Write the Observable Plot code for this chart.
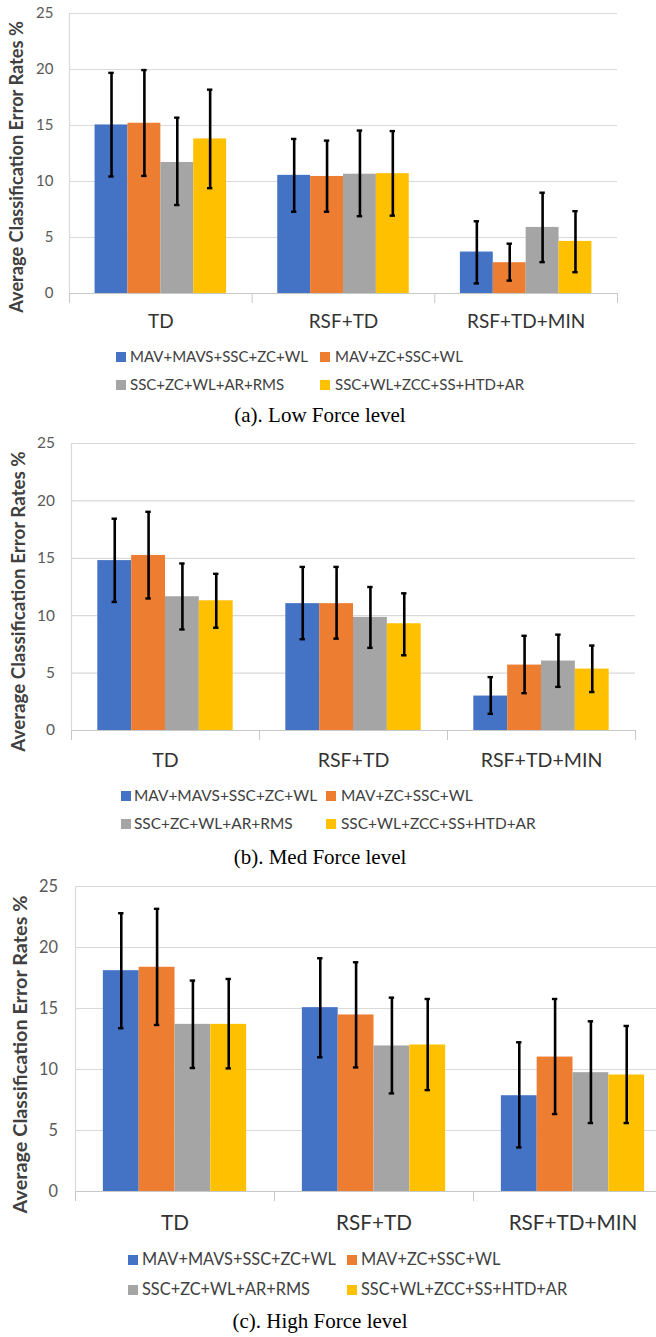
<!DOCTYPE html>
<html>
<head>
<meta charset="utf-8">
<script src="https://cdn.jsdelivr.net/npm/d3@7"></script>
<script src="https://cdn.jsdelivr.net/npm/@observablehq/plot@0.6"></script>
<style>
  html, body { margin: 0; padding: 0; background: #fff; }
  body { width: 656px; height: 1337px; overflow: hidden; position: relative; }
  .panel { position: absolute; left: 0; width: 656px; overflow: hidden; }
  .panel svg { display: block; max-width: none !important; }
  .sq { position: absolute; width: 10px; height: 10px; }
  .lg { position: absolute; font-family: Lato, sans-serif; color: #404040; line-height: 1; white-space: nowrap; }
  .cap { position: absolute; left: 0; width: 640px; text-align: center; font-family: "Liberation Serif", "Times New Roman", serif; font-size: 21px; line-height: 1; color: #000; }
</style>
</head>
<body>
<script>
// ---- data ----
const categories = ["TD", "RSF+TD", "RSF+TD+MIN"];
const series = ["MAV+MAVS+SSC+ZC+WL", "MAV+ZC+SSC+WL", "SSC+ZC+WL+AR+RMS", "SSC+WL+ZCC+SS+HTD+AR"];
const colors = ["#4472C4", "#ED7D31", "#A5A5A5", "#FFC000"];
const yTicks = [0, 5, 10, 15, 20, 25];
const yLabel = "Average Classification Error Rates %";
const captions = ["(a). Low Force level", "(b). Med Force level", "(c). High Force level"];

// values per series (rows) across categories (columns)
const lowMean = [[15.05, 10.55, 3.7], [15.2, 10.45, 2.75], [11.7, 10.65, 5.9], [13.8, 10.7, 4.65]];
const lowLo   = [[10.45, 7.3, 0.9], [10.5, 7.3, 1.15], [7.9, 6.9, 2.8], [9.4, 6.95, 1.9]];
const lowHi   = [[19.7, 13.8, 6.45], [19.95, 13.65, 4.45], [15.7, 14.55, 9.0], [18.2, 14.5, 7.35]];

const medMean = [[14.8, 11.05, 3.0], [15.25, 11.05, 5.7], [11.65, 9.85, 6.05], [11.3, 9.3, 5.35]];
const medLo   = [[11.2, 7.95, 1.45], [11.5, 8.0, 3.25], [8.8, 7.2, 3.8], [8.95, 6.55, 3.35]];
const medHi   = [[18.45, 14.25, 4.65], [19.05, 14.25, 8.25], [14.55, 12.5, 8.35], [13.65, 11.95, 7.4]];

const highMean = [[18.1, 15.07, 7.85], [18.38, 14.47, 11.02], [13.7, 11.93, 9.74], [13.7, 12.01, 9.55]];
const highLo   = [[13.38, 11.0, 3.61], [13.65, 10.17, 6.35], [10.12, 8.04, 5.61], [10.09, 8.31, 5.61]];
const highHi   = [[22.81, 19.12, 12.23], [23.17, 18.79, 15.78], [17.29, 15.89, 13.95], [17.42, 15.78, 13.57]];

// ---- layout ----
const PAD = 0.14;
const BW = (1 - 2 * PAD) / series.length;

const layouts = [
  {top: 0,   W: 656, ml: 69, mr: 39, mt: 13, y0: 293, H: 340, s: 1.00, catPad: 20.5, ylx: 17, yly: 166.5,
   rows: [357, 385], sqX: [116, 320], txX: [130, 335], capBase: 423, mean: lowMean, lo: lowLo, hi: lowHi},
  {top: 430, W: 656, ml: 71, mr: 21, mt: 13, y0: 300, H: 350, s: 1.03, catPad: 23, ylx: 18.5, yly: 171,
   rows: [366, 394], sqX: [121, 326], txX: [134, 341], capBase: 435, mean: medMean, lo: medLo, hi: medHi},
  {top: 873, W: 700, ml: 75, mr: 28, mt: 13, y0: 318, H: 370, s: 1.09, catPad: 23.5, ylx: 20, yly: 181,
   rows: [387, 417], sqX: [128, 347], txX: [142, 361], capBase: 456, mean: highMean, lo: highLo, hi: highHi}
];

layouts.forEach((p, pi) => {
  const data = [];
  series.forEach((s, si) => categories.forEach((c, ci) => data.push({
    series: s, si, ci, cat: c, value: p.mean[si][ci], lo: p.lo[si][ci], hi: p.hi[si][ci]
  })));
  const left = d => d.ci + PAD + d.si * BW;
  const mid = d => left(d) + BW / 2;
  const unitPx = (p.W - p.ml - p.mr) / categories.length;
  const capHalf = 2.7 / unitPx;

  const chart = Plot.plot({
    width: p.W, height: p.H,
    marginLeft: p.ml, marginRight: p.mr, marginTop: p.mt, marginBottom: p.H - p.y0,
    style: {fontFamily: "Lato, sans-serif", background: "white", maxWidth: "none"},
    x: {type: "linear", domain: [0, categories.length]},
    y: {domain: [0, 25]},
    color: {domain: series, range: colors},
    marks: [
      Plot.gridY(yTicks, {stroke: "#d9d9d9", strokeOpacity: 1, strokeWidth: 1.2}),
      Plot.ruleX([0], {y1: 0, y2: 25, stroke: "#d9d9d9", strokeWidth: 1.2}),
      Plot.rectY(data, {x1: left, x2: d => left(d) + BW, y1: 0, y2: "value", fill: "series"}),
      Plot.ruleY([0], {stroke: "#c8c8c8", strokeWidth: 1.2}),
      Plot.axisX(d3.range(categories.length + 1), {tickSize: 10, stroke: "#c8c8c8", tickFormat: () => "", label: null}),
      Plot.axisX(categories.map((c, i) => i + 0.5), {
        tickSize: 0, tickPadding: p.catPad, tickFormat: v => categories[Math.floor(v)],
        fontSize: 19 * p.s, fill: "#333", label: null
      }),
      Plot.axisY(yTicks, {tickSize: 0, tickPadding: 16 * p.s, fontSize: 15 * p.s, fill: "#595959", label: null}),
      Plot.ruleX(data, {x: mid, y1: "lo", y2: "hi", stroke: "black", strokeWidth: 2.6}),
      Plot.ruleY(data, {y: "lo", x1: d => mid(d) - capHalf, x2: d => mid(d) + capHalf, stroke: "black", strokeWidth: 2.4}),
      Plot.ruleY(data, {y: "hi", x1: d => mid(d) - capHalf, x2: d => mid(d) + capHalf, stroke: "black", strokeWidth: 2.4}),
      Plot.text([yLabel], {
        text: d => d, frameAnchor: "left", textAnchor: "middle", rotate: -90,
        dx: p.ylx - p.ml, dy: p.yly - (p.mt + p.y0) / 2,
        fontWeight: "bold", fontSize: 18.2 * p.s, fill: "#404040"
      })
    ]
  });

  const panel = document.createElement("div");
  panel.className = "panel";
  panel.style.top = p.top + "px";
  panel.style.height = (p.capBase + 10) + "px";
  panel.appendChild(chart);

  // legend (2 x 2)
  series.forEach((s, si) => {
    const row = Math.floor(si / 2), col = si % 2;
    const cy = p.rows[row];
    const sq = document.createElement("div");
    sq.className = "sq";
    sq.style.background = colors[si];
    sq.style.left = p.sqX[col] + "px";
    sq.style.top = (cy - 5) + "px";
    const fs = 15 * p.s;
    const tx = document.createElement("div");
    tx.className = "lg";
    tx.textContent = s;
    tx.style.fontSize = fs + "px";
    tx.style.left = p.txX[col] + "px";
    tx.style.top = (cy - 0.53 * fs) + "px";
    panel.appendChild(sq);
    panel.appendChild(tx);
  });

  const cap = document.createElement("div");
  cap.className = "cap";
  cap.textContent = captions[pi];
  cap.style.top = (p.capBase - 17.6) + "px";
  panel.appendChild(cap);

  document.body.appendChild(panel);
});
</script>
</body>
</html>
